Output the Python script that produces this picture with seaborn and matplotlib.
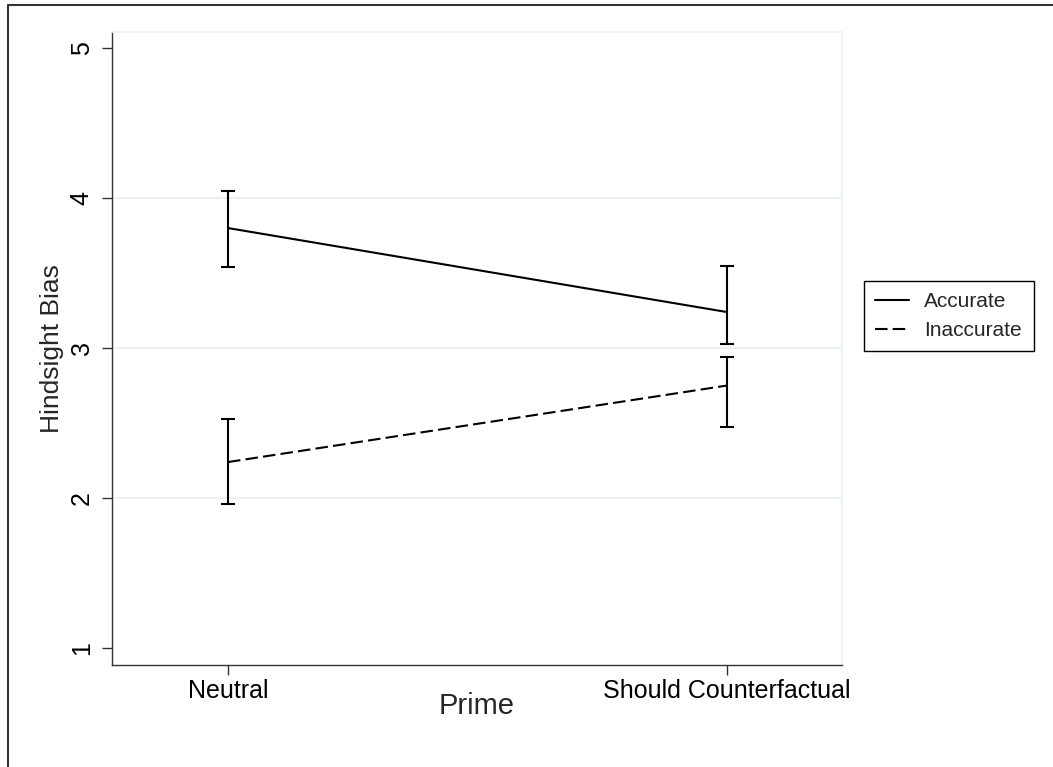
import matplotlib.pyplot as plt
import pandas as pd
import seaborn as sns
from matplotlib.lines import Line2D

# data
primes = ['Neutral', 'Should Counterfactual']
groups = ['Accurate', 'Inaccurate']
acc_mean = [3.80, 3.24]
acc_low = [3.54, 3.03]
acc_high = [4.05, 3.545]
inacc_mean = [2.24, 2.75]
inacc_low = [1.96, 2.475]
inacc_high = [2.525, 2.94]
y_ticks = [1, 2, 3, 4, 5]
grid_levels = [2, 3, 4]

df = pd.DataFrame({
    'Prime': primes * 2,
    'group': ['Accurate'] * 2 + ['Inaccurate'] * 2,
    'mean': acc_mean + inacc_mean,
    'low': acc_low + inacc_low,
    'high': acc_high + inacc_high,
})

sns.set_style('white')
plt.rcParams['font.family'] = ['Liberation Sans', 'DejaVu Sans']

fig = plt.figure(figsize=(10.53, 7.67), dpi=100)
ax = fig.add_axes([112 / 1053, 1 - 665 / 767, (842 - 112) / 1053, (665 - 32) / 767])

# light grid like Stata
for g in grid_levels:
    ax.axhline(g, color='#eaf2f3', lw=1.5, zorder=0)

dash_map = {'Accurate': '', 'Inaccurate': (6, 2.5)}
sns.lineplot(data=df, x='Prime', y='mean', style='group', dashes=dash_map,
             color='black', lw=1.5, ax=ax, legend=False, sort=False)

# confidence caps
pos = {p: i for i, p in enumerate(primes)}
for grp in groups:
    d = df[df.group == grp]
    xs = [pos[p] for p in d.Prime]
    ax.errorbar(xs, d['mean'], yerr=[d['mean'] - d['low'], d['high'] - d['mean']],
                fmt='none', ecolor='black', elinewidth=1.5, capsize=5, capthick=1.5)

ax.set_xlim(-0.2325, 1.2305)
ax.set_ylim(0.887, 5.107)
ax.set_yticks(y_ticks)
ax.set_yticklabels([str(t) for t in y_ticks], rotation=90, va='center', fontsize=18)
ax.set_xticks(range(len(primes)))
ax.set_xticklabels(primes, fontsize=18)
ax.tick_params(axis='both', direction='out', length=7.2, width=1, color='#333333',
               labelcolor='black', left=True, bottom=True)
ax.tick_params(axis='y', pad=6)
ax.tick_params(axis='x', pad=3)

for s in ['left', 'bottom']:
    ax.spines[s].set_color('#333333')
    ax.spines[s].set_linewidth(1)
for s in ['top', 'right']:
    ax.spines[s].set_color('#eaf2f3')
    ax.spines[s].set_linewidth(1.2)

ax.set_xlabel('Prime', fontsize=21)
ax.xaxis.set_label_coords(0.5, (665 - 706) / 633)
ax.xaxis.label.set_va('center')
ax.set_ylabel('Hindsight Bias', fontsize=19)
ax.yaxis.set_label_coords((52 - 112) / 730, 0.5)
ax.yaxis.label.set_va('center')

# legend
handles = [Line2D([], [], color='black', lw=1.5, dashes=dash_map[g] if dash_map[g] else (None, None))
           for g in groups]
handles[0].set_linestyle('-')
leg = ax.legend(handles, groups, loc='upper left', bbox_to_anchor=(864 / 1053, 1 - 281 / 767),
                bbox_transform=fig.transFigure, borderaxespad=0, fontsize=15,
                handlelength=1.6, handletextpad=0.75, borderpad=0.55, labelspacing=0.45,
                fancybox=False, framealpha=1, edgecolor='black')
leg.get_frame().set_linewidth(1)

# outer frame (only top/left visible in the crop)
fig.add_artist(Line2D([8 / 1053, 8 / 1053, 1.01], [-0.01, 1 - 5 / 767, 1 - 5 / 767],
                      transform=fig.transFigure, color='#333333', lw=1.5))

fig.savefig('out.png', dpi=100)
